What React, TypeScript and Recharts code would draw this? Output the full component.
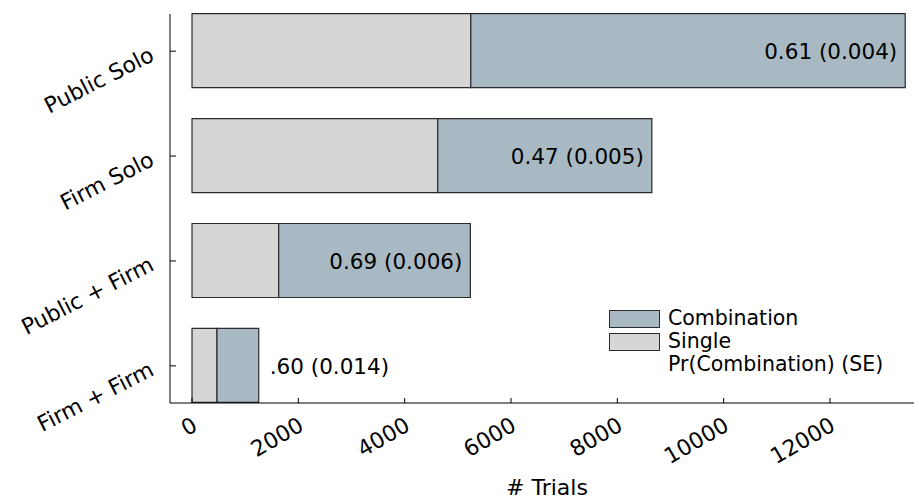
import React from 'react';
import { BarChart, Bar, XAxis, YAxis, Legend, LabelList } from 'recharts';

const categories = ['Public Solo', 'Firm Solo', 'Public + Firm', 'Firm + Firm'];
const singleTrials = [5244, 4622, 1631, 470];
const combinationTrials = [8171, 4027, 3605, 785];
const prLabels = ['0.61 (0.004)', '0.47 (0.005)', '0.69 (0.006)', '.60 (0.014)'];
const xTicks = [0, 2000, 4000, 6000, 8000, 10000, 12000];

const data = categories.map((name, i) => ({
  name,
  single: singleTrials[i],
  combination: combinationTrials[i],
  pr: prLabels[i],
}));

const FONT = 'DejaVu Sans';
const SINGLE_COLOR = '#d6d6d6';
const COMBO_COLOR = '#a8b9c3';
const EDGE = '#2b2b2b';

const XTick = ({ x, y, payload }: any) => (
  <g>
    <line x1={x} y1={y} x2={x} y2={y - 5} stroke="#000" strokeWidth={1} />
    <text
      x={x + 3}
      y={y + 20}
      textAnchor="end"
      dominantBaseline="central"
      transform={`rotate(-30, ${x + 3}, ${y + 20})`}
      fontSize={22}
      fill="#000"
      fontFamily={FONT}
    >
      {payload.value}
    </text>
  </g>
);

const YTick = ({ x, y, payload }: any) => (
  <g>
    <line x1={x} y1={y} x2={x + 6} y2={y} stroke="#000" strokeWidth={1} />
    <text
      x={x - 18}
      y={y + 2}
      textAnchor="end"
      dominantBaseline="central"
      transform={`rotate(-27, ${x - 18}, ${y + 2})`}
      fontSize={22}
      fill="#000"
      fontFamily={FONT}
    >
      {payload.value}
    </text>
  </g>
);

const PrLabel = ({ x, y, width, height, value }: any) => {
  const inside = width > 150;
  return (
    <text
      x={inside ? x + width - 8 : x + width + 11}
      y={y + height / 2 + 1}
      textAnchor={inside ? 'end' : 'start'}
      dominantBaseline="central"
      fontSize={21.5}
      fill="#000"
      fontFamily={FONT}
    >
      {value}
    </text>
  );
};

const legendItems = [
  { label: 'Combination', color: COMBO_COLOR },
  { label: 'Single', color: SINGLE_COLOR },
  { label: 'Pr(Combination) (SE)', color: null },
];

const renderLegend = () => (
  <div style={{ fontFamily: FONT, fontSize: 20.5, lineHeight: '23px', color: '#000' }}>
    {legendItems.map((it) => (
      <div key={it.label} style={{ display: 'flex', alignItems: 'center', height: 23 }}>
        <div
          style={{
            width: 51,
            height: 18,
            boxSizing: 'border-box',
            background: it.color ?? 'transparent',
            border: it.color ? `1.5px solid ${EDGE}` : 'none',
            marginRight: 8,
            flexShrink: 0,
          }}
        />
        <div style={{ whiteSpace: 'nowrap', height: 23, lineHeight: '23px' }}>{it.label}</div>
      </div>
    ))}
  </div>
);

export default function App() {
  return (
    <div style={{ position: 'absolute', left: 0, top: 0, fontFamily: FONT }}>
      <BarChart
        width={914}
        height={500}
        data={data}
        layout="vertical"
        margin={{ top: 14, right: 0, left: 0, bottom: 0 }}
        style={{ fontFamily: FONT }}
      >
        <XAxis
          type="number"
          domain={[-414, 13580]}
          ticks={xTicks}
          allowDataOverflow
          height={97}
          tickSize={0}
          tickMargin={0}
          tickLine={false}
          axisLine={{ stroke: '#000', strokeWidth: 1 }}
          tick={<XTick />}
          interval={0}
          label={{ value: '# Trials', position: 'insideBottom', offset: 5, dx: 5, fontSize: 22, fill: '#000', fontFamily: FONT }}
        />
        <YAxis
          type="category"
          dataKey="name"
          width={170}
          padding={{ top: -15.3, bottom: -15.3 }}
          tickSize={0}
          tickMargin={0}
          tickLine={false}
          axisLine={{ stroke: '#000', strokeWidth: 1 }}
          tick={<YTick />}
          interval={0}
        />
        <Legend
          layout="horizontal"
          verticalAlign="middle"
          align="center"
          content={renderLegend}
          wrapperStyle={{ position: 'absolute', left: 609, top: 307, width: 'auto' }}
        />
        <Bar
          dataKey="single"
          stackId="a"
          fill={SINGLE_COLOR}
          stroke={EDGE}
          strokeWidth={1.2}
          barSize={74}
          isAnimationActive={false}
        />
        <Bar
          dataKey="combination"
          stackId="a"
          fill={COMBO_COLOR}
          stroke={EDGE}
          strokeWidth={1.2}
          barSize={74}
          isAnimationActive={false}
        >
          <LabelList dataKey="pr" content={<PrLabel />} />
        </Bar>
      </BarChart>
    </div>
  );
}
